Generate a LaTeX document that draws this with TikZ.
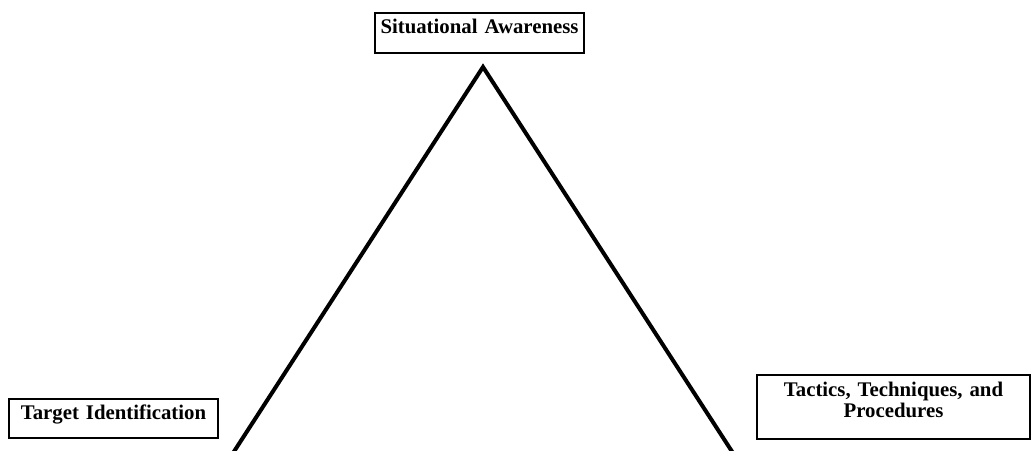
\documentclass[tikz,border=0pt]{standalone}
\usepackage{fontspec}
\setmainfont{Liberation Serif}
\usepackage{tikz}
\usetikzlibrary{positioning}

\begin{document}
\begin{tikzpicture}[x=0.75pt, y=-0.75pt,
  tbox/.style={rectangle, draw=black, line width=1pt, inner xsep=0pt,
               inner ysep=0pt, align=center, anchor=base,
               font=\bfseries\fontsize{15.6}{15.75}\selectfont},
  side/.style={line width=3pt, line join=miter}
]
  \useasboundingbox (0,0) rectangle (1034,450);
  \clip (0,0) rectangle (1034,450);

  % corner labels
  \node[tbox, text width=156.75pt, text height=15pt, text depth=15pt]
    (sa) at (479.5,33) {Situational Awareness};
  \node[tbox, text width=156.75pt, text height=15pt, text depth=14.25pt]
    (ti) at (113.5,419) {Target Identification};
  \node[tbox, text width=204.75pt, text height=15.75pt, text depth=32.25pt]
    (ttp) at (893.5,396) {Tactics, Techniques, and\\Procedures};

  % triangle
  \coordinate (apex) at (483,67);
  \coordinate (lfoot) at (228.5,460);
  \coordinate (rfoot) at (737.5,460);
  \draw[side] (lfoot) -- (apex) -- (rfoot);
\end{tikzpicture}
\end{document}
